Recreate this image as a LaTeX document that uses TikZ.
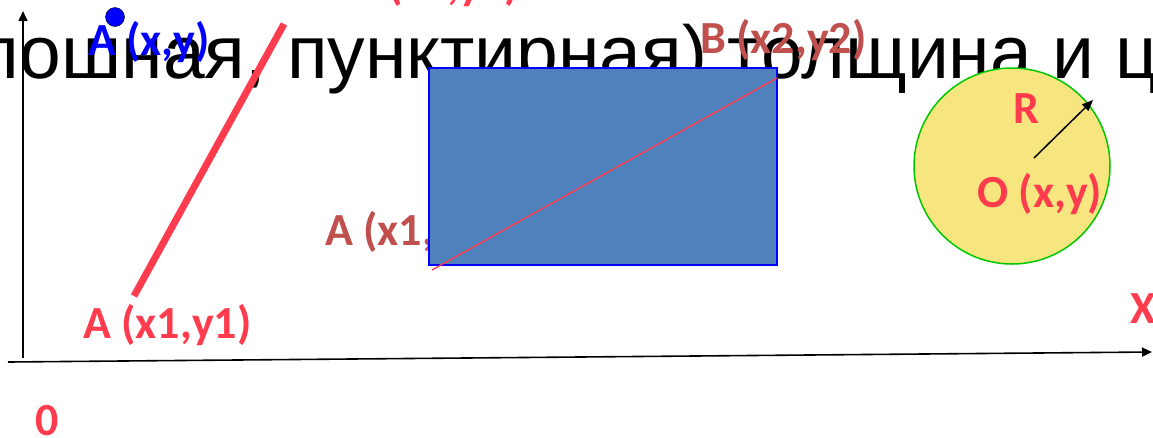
\documentclass[tikz,border=0pt]{standalone}
\usepackage{fontspec}
\setmainfont{Liberation Sans}
\newfontfamily\etichetta{Carlito}
\usepackage{tikz}
\usetikzlibrary{arrows.meta}
\usepackage{xcolor}
\definecolor{rosso}{RGB}{255,59,78}
\definecolor{mattone}{RGB}{192,80,77}
\definecolor{azzurro}{RGB}{79,129,189}
\definecolor{giallo}{RGB}{247,230,127}
\definecolor{verde}{RGB}{0,200,0}
\tikzset{
  lab/.style={font=\etichetta\bfseries\fontsize{46}{46}\selectfont, inner sep=0pt, anchor=base west},
  asse/.style={line width=1.6pt, -{Triangle[length=10pt,width=9pt]}}
}

\begin{document}
\begin{tikzpicture}[x=1pt,y=-1pt]
\useasboundingbox (0,0) rectangle (1153,437);
% Testo di sfondo, tagliato ai bordi
\node[font=\fontsize{75}{75}\selectfont, inner sep=0pt, anchor=base west] (riga) at (-103,78) {сплошная, пунктирная) толщина и цвет};
% Assi
\coordinate (xs) at (8,362); \coordinate (xe) at (1152,352);
\coordinate (ys) at (23,358); \coordinate (ye) at (23,11);
\draw[asse] (xs) -- (xe);
\draw[asse] (ys) -- (ye);
\node[lab, text=rosso] (zero) at (35,435) {0};
\node[lab, text=rosso] (asx) at (1130,323) {X};
% Segmento spesso
\coordinate (a1) at (134,296); \coordinate (b1) at (284,24);
\draw[rosso, line width=7pt] (a1) -- (b1);
\node[lab, text=rosso] (la1) at (83,338) {A (x1,y1)};
\node[lab, text=rosso] (lb1) at (352,-1) {B (x2,y2)};
% Punto
\node[circle, fill=blue, draw=black, minimum size=19pt, inner sep=0pt] (pt) at (115,17) {};
\node[lab, text=blue] (lpt) at (88,55) {A (x,y)};
% Rettangolo
\node[lab, text=mattone] (la2) at (325,245) {A (x1,y1)};
\node[draw=blue, fill=azzurro, line width=1.5pt, minimum width=348pt, minimum height=197pt, inner sep=0pt, anchor=north west] (rett) at (428,67) {};
\coordinate (a2) at (432,270); \coordinate (b2) at (777,78);
\draw[rosso, line width=1.4pt] (a2) -- (b2);
\node[lab, text=mattone] (lb2) at (700,53) {B (x2,y2)};
% Cerchio
\node[circle, draw=verde, fill=giallo, line width=1.5pt, minimum size=196pt, inner sep=0pt] (cerchio) at (1012,166) {};
\coordinate (c0) at (1034,158); \coordinate (c1) at (1093,100);
\draw[line width=1.5pt, -{Triangle[length=11pt,width=9pt]}] (c0) -- (c1);
\node[lab, text=rosso] (lr) at (1013,123) {R};
\node[lab, text=rosso] (lo) at (977,207) {O (x,y)};
\end{tikzpicture}
\end{document}
